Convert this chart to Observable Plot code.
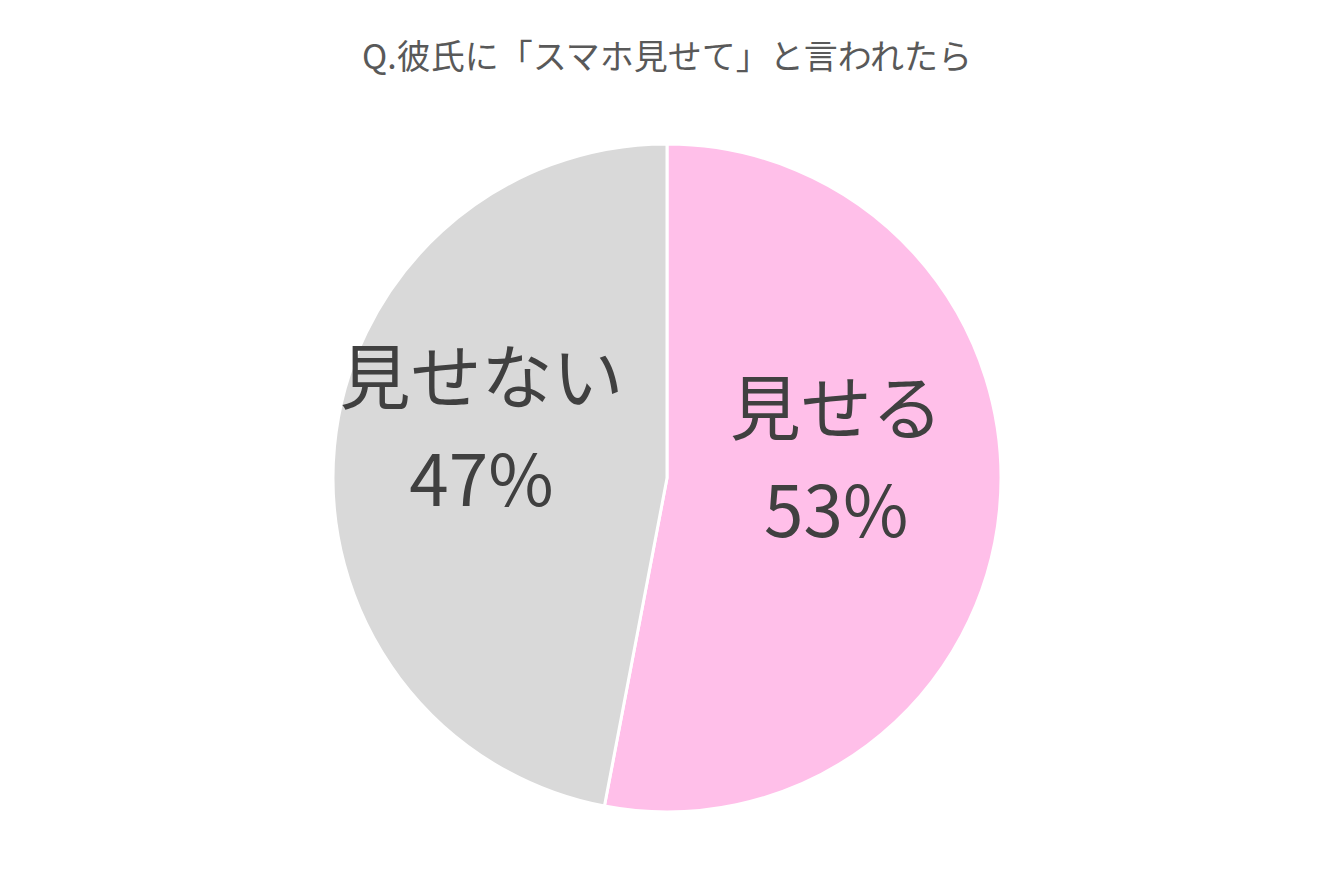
<!DOCTYPE html>
<html>
<head>
<meta charset="utf-8">
<script src="https://cdn.jsdelivr.net/npm/d3@7"></script>
<script src="https://cdn.jsdelivr.net/npm/@observablehq/plot@0.6"></script>
<style>
  html, body { margin: 0; padding: 0; background: #ffffff; }
  #title { height: 100px; box-sizing: border-box; padding-top: 33px; text-align: center;
    font-family: "Noto Sans CJK JP", sans-serif; font-size: 34px; color: #595959; line-height: 44px; }
  #chart svg { display: block; }
</style>
</head>
<body>
<div id="title">Q.彼氏に「スマホ見せて」と言われたら</div>
<div id="chart"></div>
<script>
// Data
const categories = ["見せる", "見せない"];
const values = [53, 47];
const colors = ["#FFBFE9", "#D9D9D9"];

// Label placement (unit-radius coordinates, layout only)
const labelLayout = [
  {dx: 0.505, dy: 0.078},
  {dx: -0.557, dy: 0.170}
];

const W = 1334, H = 789, R = 334, CX = 667, CY = 378;

const pie = d3.pie().sort(null).value(d => d.value);
const rows = categories.map((c, i) => ({category: c, value: values[i]}));
const arcs = pie(rows);
const labels = arcs.map((a, i) => ({
  text: `${a.data.category}\n${a.data.value}%`,
  x: labelLayout[i].dx,
  y: labelLayout[i].dy
}));

const slicesMark = (index, scales) => {
  const cx = scales.x(0), cy = scales.y(0);
  const r = scales.x(1) - scales.x(0);
  const arc = d3.arc().innerRadius(0).outerRadius(r);
  const g = d3.create("svg:g").attr("transform", `translate(${cx},${cy})`);
  g.selectAll("path").data(arcs).join("path")
    .attr("d", arc)
    .attr("fill", d => scales.color(d.data.category))
    .attr("stroke", "#ffffff")
    .attr("stroke-width", 3)
    .attr("stroke-linejoin", "round");
  return g.node();
};

const chart = Plot.plot({
  width: W,
  height: H,
  margin: 0,
  x: {domain: [-CX / R, (W - CX) / R], axis: null},
  y: {domain: [-(H - CY) / R, CY / R], axis: null},
  color: {domain: categories, range: colors},
  marks: [
    slicesMark,
    Plot.text(labels, {
      x: "x", y: "y", text: "text",
      fontSize: 71,
      lineHeight: 1.45,
      fill: "#404040",
      fontFamily: "Noto Sans CJK JP",
      textAnchor: "middle",
      lineAnchor: "middle"
    })
  ]
});
document.getElementById("chart").appendChild(chart);
</script>
</body>
</html>
